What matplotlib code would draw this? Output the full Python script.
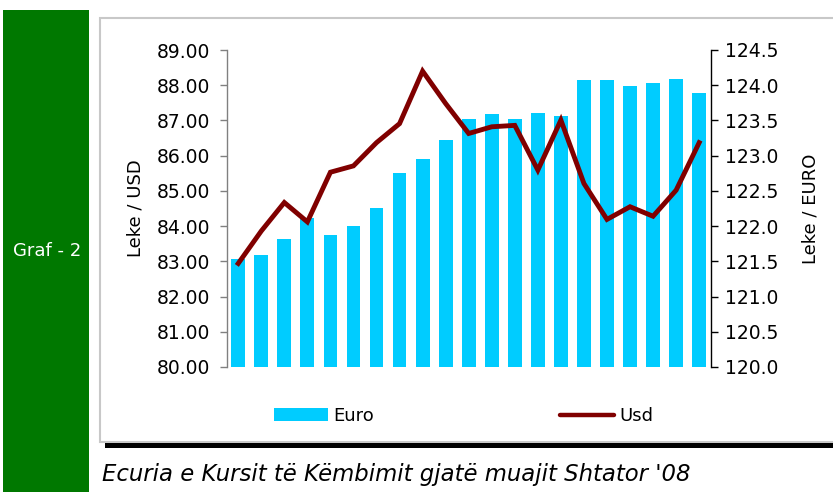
import matplotlib
matplotlib.use("Agg")
import matplotlib.pyplot as plt
from matplotlib.patches import Rectangle
from matplotlib.lines import Line2D
from matplotlib.patches import Patch

# Data (21 observations, September 2008)
euro = [121.53, 121.59, 121.81, 122.12, 121.87, 122.00, 122.25, 122.75, 122.95,
        123.22, 123.52, 123.59, 123.52, 123.60, 123.56, 124.07, 124.07, 123.99,
        124.03, 124.09, 123.89]
usd = [82.94, 83.86, 84.67, 84.12, 85.53, 85.71, 86.37, 86.91, 88.40, 87.48,
       86.63, 86.82, 86.86, 85.59, 87.01, 85.21, 84.19, 84.55, 84.28, 85.02,
       86.37]
left_ticks = [80, 81, 82, 83, 84, 85, 86, 87, 88, 89]
right_ticks = [120.0, 120.5, 121.0, 121.5, 122.0, 122.5, 123.0, 123.5, 124.0, 124.5]

plt.rcParams['font.family'] = ['DejaVu Sans']

W, H = 833, 492
fig = plt.figure(figsize=(W / 100, H / 100), dpi=100)
fig.patch.set_facecolor('white')

def fx(px):
    return px / W

def fy(py):
    return 1 - py / H

# Green side band
fig.patches.append(Rectangle((fx(3), fy(492)), fx(89) - fx(3), fy(10) - fy(492),
                             transform=fig.transFigure, facecolor='#007800',
                             edgecolor='none', zorder=-5))
fig.text(fx(47), fy(251), 'Graf - 2', color='white', fontsize=13,
         ha='center', va='center')

# Chart box
fig.patches.append(Rectangle((fx(99.5), fy(441.5)), fx(840) - fx(99.5), fy(17.5) - fy(441.5),
                             transform=fig.transFigure, facecolor='white',
                             edgecolor='#c8c8c8', linewidth=1.5, zorder=-5))
# Black shadow line under box
fig.patches.append(Rectangle((fx(105), fy(448)), fx(833) - fx(105), fy(443) - fy(448),
                             transform=fig.transFigure, facecolor='black',
                             edgecolor='none', zorder=-5))

ax = fig.add_axes([fx(226.7), fy(367), fx(710.7) - fx(226.7), fy(50) - fy(367)])
ax2 = ax.twinx()

x = list(range(len(euro)))
ax2.bar(x, [e - 120 for e in euro], bottom=120, width=0.6, color='#00CCFF', zorder=1)
ax2.set_ylim(120, 124.5)
ax2.set_yticks(right_ticks)
ax2.set_yticklabels([f'{t:.1f}' for t in right_ticks])

ax.set_zorder(ax2.get_zorder() + 1)
ax.patch.set_visible(False)
ax.plot(x, usd, color='#800000', linewidth=3.5, solid_joinstyle='miter', zorder=3)
ax.set_ylim(80, 89)
ax.set_yticks(left_ticks)
ax.set_yticklabels([f'{t:.2f}' for t in left_ticks])
ax.set_xlim(-0.5, len(euro) - 0.5)
ax2.set_xlim(-0.5, len(euro) - 0.5)
ax.set_xticks([])

for a in (ax, ax2):
    for s in ('top', 'bottom'):
        a.spines[s].set_visible(False)
ax.spines['right'].set_visible(False)
ax2.spines['left'].set_visible(False)
ax.spines['left'].set_color('#808080')
ax2.spines['right'].set_color('#000000')
ax.spines['left'].set_linewidth(1.0)
ax2.spines['right'].set_linewidth(1.0)
ax.tick_params(axis='y', length=5, width=1, color='#808080', labelsize=13.5, pad=7)
ax2.tick_params(axis='y', length=5, width=1, color='#000000', labelsize=13.5, pad=5.5)

ax.set_ylabel('Leke / USD', fontsize=13, labelpad=9)
ax2.set_ylabel('Leke / EURO', fontsize=13, labelpad=16)

# Legend
handles = [Patch(facecolor='#00CCFF', edgecolor='none'),
           Line2D([], [], color='#800000', linewidth=3.2, solid_capstyle='round')]
leg = fig.legend(handles, ['Euro', 'Usd'], loc='center left', ncol=2,
                 bbox_to_anchor=(fx(274), fy(416)), frameon=False,
                 borderpad=0, borderaxespad=0,
                 fontsize=13, handlelength=3.0, handleheight=0.75,
                 handletextpad=0.28, columnspacing=10.3)

fig.text(fx(102), fy(475), "Ecuria e Kursit të Këmbimit gjatë muajit Shtator '08",
         fontsize=16.4, style='italic', ha='left', va='center')

fig.savefig('out.png', dpi=100)
